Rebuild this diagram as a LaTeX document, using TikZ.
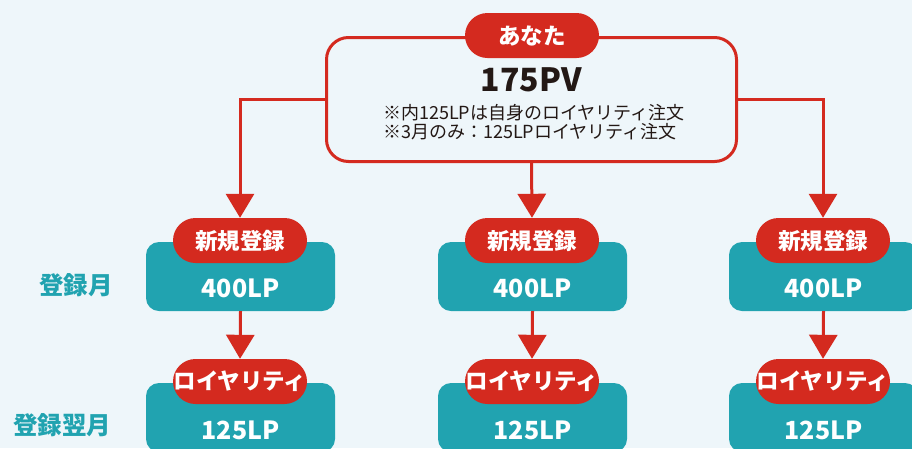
\documentclass[tikz,border=0pt]{standalone}
\usepackage{fontspec}
\setmainfont{Noto Sans CJK JP}
\usetikzlibrary{arrows.meta}
\definecolor{bgblue}{HTML}{EEF6FA}
\definecolor{redc}{HTML}{D42A1F}
\definecolor{tealc}{HTML}{21A3B0}
\definecolor{inkc}{HTML}{231815}
\tikzset{
  pill/.style={fill=redc, text=white, font=\bfseries\fontsize{22.5}{22.5}\selectfont,
    rounded corners=22.5pt, minimum width=134pt, minimum height=45pt, inner sep=0pt},
  tealbox/.style={fill=tealc, rounded corners=13pt, minimum width=189pt, minimum height=69pt},
  amount/.style={text=white, font=\bfseries\fontsize{25}{25}\selectfont},
  month/.style={text=tealc, font=\bfseries\fontsize{24.5}{24.5}\selectfont},
  flow/.style={draw=redc, line width=3pt, -{Triangle[width=28pt,length=24pt]}}
}

\begin{document}
\begin{tikzpicture}[x=1pt, y=-1pt]
\clip (0,0) rectangle (912,448);
\fill[bgblue] (0,0) rectangle (912,448);

\node[draw=redc, line width=3pt, rounded corners=22pt, minimum width=410pt, minimum height=124pt] (you) at (531.5,99.5) {};
\node[pill] (title) at (532,35.5) {あなた};
\node[text=inkc, font=\bfseries\fontsize{32}{32}\selectfont] (pv) at (531.5,80) {175PV};
\node[anchor=west, align=left, text=inkc, inner sep=0pt, font=\fontsize{18}{19}\selectfont] (note) at (383,122.5)
  {※内125LPは自身のロイヤリティ注文\\※3月のみ：125LPロイヤリティ注文};

\node[tealbox] (box1) at (240.5,276.5) {};
\node[tealbox] (box2) at (532.5,276.5) {};
\node[tealbox] (box3) at (823.5,276.5) {};
\node[tealbox] (next1) at (240.5,417.5) {};
\node[tealbox] (next2) at (532.5,417.5) {};
\node[tealbox] (next3) at (823.5,417.5) {};

\node[amount] (lp1) at ([yshift=-11.5pt]box1.center) {400LP};
\node[amount] (lp2) at ([yshift=-11.5pt]box2.center) {400LP};
\node[amount] (lp3) at ([yshift=-11.5pt]box3.center) {400LP};
\node[amount] (ry1) at ([yshift=-12.5pt]next1.center) {125LP};
\node[amount] (ry2) at ([yshift=-12.5pt]next2.center) {125LP};
\node[amount] (ry3) at ([yshift=-12.5pt]next3.center) {125LP};

\node[pill] (reg1) at (240,240.5) {新規登録};
\node[pill] (reg2) at (532,240.5) {新規登録};
\node[pill] (reg3) at (823,240.5) {新規登録};
\node[pill] (roy1) at (240,381.5) {ロイヤリティ};
\node[pill] (roy2) at (532,381.5) {ロイヤリティ};
\node[pill] (roy3) at (823,381.5) {ロイヤリティ};

\draw[flow] (you.west) -| (reg1.north);
\draw[flow] (you.south) -- (reg2.north);
\draw[flow] (you.east) -| (reg3.north);
\draw[flow] (box1.south) -- (roy1.north);
\draw[flow] (box2.south) -- (roy2.north);
\draw[flow] (box3.south) -- (roy3.north);

\node[month] (m1) at (76,285) {登録月};
\node[month] (m2) at (62,425) {登録翌月};
\end{tikzpicture}
\end{document}
